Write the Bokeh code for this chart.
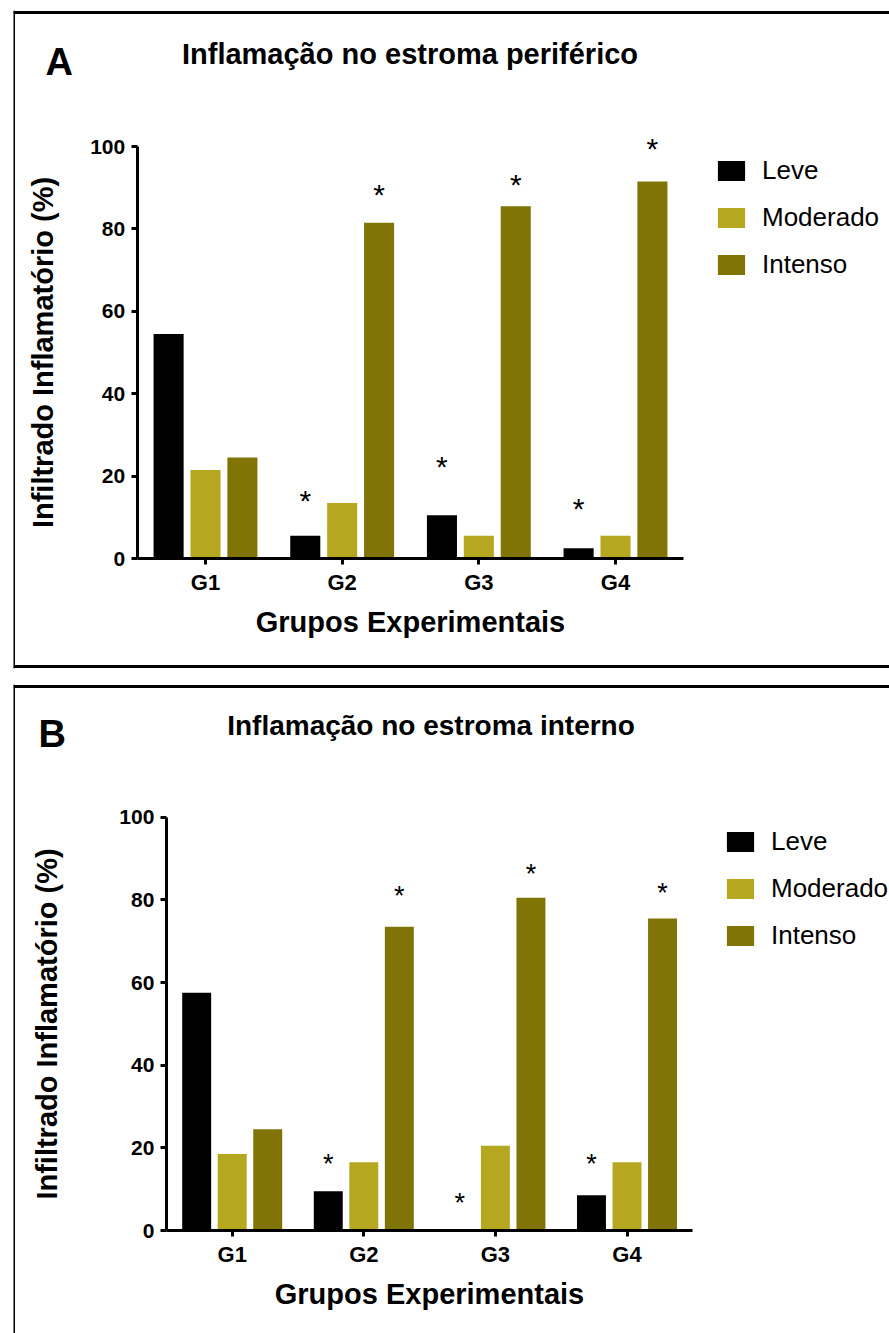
import numpy as np
from bokeh.plotting import figure
from bokeh.models import (ColumnDataSource, Range1d, LinearAxis, FixedTicker,
                          Legend, LegendItem, Label, Span)
from bokeh.layouts import column
from bokeh.transform import dodge
from bokeh.core.properties import value
from bokeh.embed import file_html
from bokeh.resources import INLINE

# ---------------- data ----------------
groups = ["G1", "G2", "G3", "G4"]
series = ["Leve", "Moderado", "Intenso"]
y_ticks = [0, 20, 40, 60, 80, 100]

# Panel A - Inflamação no estroma periférico
a_leve = [54.5, 5.5, 10.5, 2.5]
a_moderado = [21.5, 13.5, 5.5, 5.5]
a_intenso = [24.5, 81.5, 85.5, 91.5]
a_star_leve = [np.nan, 14.7, 23.0, 12.8]
a_star_intenso = [np.nan, 89.0, 91.3, 100.2]

# Panel B - Inflamação no estroma interno
b_leve = [57.5, 9.5, 0.0, 8.5]
b_moderado = [18.5, 16.5, 20.5, 16.5]
b_intenso = [24.5, 73.5, 80.5, 75.5]
b_star_leve = [np.nan, 16.9, 7.3, 16.9]
b_star_intenso = [np.nan, 81.6, 87.1, 82.3]

# ---------------- styles ----------------
colors = ["#000000", "#b5a820", "#807406"]
FONT = "Liberation Sans"
W = 889          # page width
BASE_FIX = 14    # svg alphabetic-baseline correction (px)


def make_panel(letter, title, leve, moderado, intenso, star_leve, star_int, g):
    H = g["H"]
    L = g["box_left"]               # frame left = panel border, px
    T, B = g["T"], g["B"]
    sx = g["spacing"]
    sy = g["ppu"]
    x0 = 1 - (g["g1_px"] - L) / sx
    x1 = x0 + (W - L) / sx
    y1 = (g["zero_px"] - T) / sy
    y0 = -(H - B - g["zero_px"]) / sy

    def px_x(px):
        return x0 + (px - L) / sx

    def px_y(py):
        return (g["zero_px"] - py) / sy

    p = figure(width=W, height=H, x_axis_type=None, y_axis_type=None,
               toolbar_location=None, output_backend="svg",
               x_range=Range1d(x0, x1), y_range=Range1d(y0, y1),
               min_border_left=L, min_border_right=0,
               min_border_top=T, min_border_bottom=B)
    p.outline_line_color = None
    p.background_fill_color = "white"
    p.border_fill_color = "white"

    src = ColumnDataSource(dict(x=[1, 2, 3, 4], group=groups,
                                Leve=leve, Moderado=moderado, Intenso=intenso,
                                s_leve=star_leve, s_int=star_int))
    offsets = [-0.27, 0.0, 0.27]
    rends = []
    for name, col, off in zip(series, colors, offsets):
        r = p.vbar(x=dodge("x", off), top=name, bottom=0, width=0.22,
                   source=src, fill_color=col, line_color=None)
        rends.append(r)

    for col_name, off in (("s_leve", -0.27), ("s_int", 0.27)):
        p.text(x=dodge("x", off), y=col_name, text=value("*"), source=src,
               text_font=value(FONT), text_font_size=value(g["star_size"]),
               text_align="center", text_baseline="alphabetic",
               y_offset=g["star_off"], text_color="black")

    # axes
    yaxis = LinearAxis(fixed_location=0.5, bounds=(0, 100),
                       ticker=FixedTicker(ticks=y_ticks, minor_ticks=[]),
                       axis_label="Infiltrado Inflamatório (%)")
    yaxis.axis_line_width = 3
    yaxis.major_tick_line_width = 3
    yaxis.major_tick_out = 6
    yaxis.major_tick_in = 0
    yaxis.minor_tick_out = 0
    yaxis.minor_tick_in = 0
    yaxis.major_label_standoff = 6
    yaxis.major_label_text_font = FONT
    yaxis.major_label_text_font_style = "bold"
    yaxis.major_label_text_font_size = "21px"
    yaxis.major_label_text_color = "black"
    yaxis.axis_label_text_font = FONT
    yaxis.axis_label_text_font_style = "bold"
    yaxis.axis_label_text_font_size = "29px"
    yaxis.axis_label_standoff = g["ylab_standoff"]
    yaxis.axis_label_text_color = "black"
    p.add_layout(yaxis, "left")

    xaxis = LinearAxis(fixed_location=0, bounds=(0.5, 4.5),
                       ticker=FixedTicker(ticks=[1, 2, 3, 4], minor_ticks=[]),
                       major_label_overrides={i + 1: gname for i, gname in enumerate(groups)},
                       axis_label="Grupos Experimentais")
    xaxis.axis_line_width = 3
    xaxis.major_tick_line_width = 3
    xaxis.major_tick_out = 6
    xaxis.major_tick_in = 0
    xaxis.minor_tick_out = 0
    xaxis.minor_tick_in = 0
    xaxis.major_label_standoff = 5
    xaxis.major_label_text_font = FONT
    xaxis.major_label_text_font_style = "bold"
    xaxis.major_label_text_font_size = "22px"
    xaxis.major_label_text_color = "black"
    xaxis.axis_label_text_font = FONT
    xaxis.axis_label_text_font_style = "bold"
    xaxis.axis_label_text_font_size = "29px"
    xaxis.axis_label_standoff = g["xlab_standoff"]
    xaxis.axis_label_text_color = "black"
    p.add_layout(xaxis, "below")

    # legend
    lab_h, spacing, glyph_h = 32, 15, 25
    leg_h = 3 * lab_h + 2 * spacing
    leg_bottom = g["leg_top"] - (lab_h - glyph_h) / 2 + leg_h
    legend = Legend(items=[LegendItem(label=s, renderers=[r]) for s, r in zip(series, rends)],
                    location=(g["leg_left"] - L, (H - B) - leg_bottom),
                    glyph_width=34, glyph_height=glyph_h, label_height=lab_h, spacing=spacing,
                    padding=0, margin=0, label_standoff=14,
                    label_text_font=FONT, label_text_font_size="26px",
                    label_text_color="black",
                    border_line_color=None, background_fill_alpha=0)
    p.add_layout(legend)

    # title and panel letter
    p.add_layout(Label(x=px_x(g["title_cx"]), y=px_y(g["title_base"] - BASE_FIX), text=title,
                       text_align="center", text_baseline="alphabetic",
                       text_font=FONT, text_font_style="bold",
                       text_font_size=g["title_size"], text_color="black"))
    p.add_layout(Label(x=px_x(g["letter_x"]), y=px_y(g["letter_base"] - BASE_FIX), text=letter,
                       text_align="left", text_baseline="alphabetic",
                       text_font=FONT, text_font_style="bold",
                       text_font_size="38px", text_color="black"))

    # panel border (its right edge, and the bottom of B, fall outside the picture)
    border = dict(line_color="black", line_width=3)
    p.add_layout(Span(location=x0, dimension="height", **border))
    p.add_layout(Span(location=px_y(g["box_top"]), dimension="width", **border))
    if g["box_bottom"] is not None:
        p.add_layout(Span(location=px_y(g["box_bottom"]), dimension="width", **border))
    return p


geom_a = dict(H=676, T=10, B=8, spacing=136.67, ppu=4.12, g1_px=205,
              zero_px=558, star_size="30px", star_off=2.5,
              ylab_standoff=28, xlab_standoff=8,
              leg_left=714, leg_top=158, title_size="29px",
              title_cx=409.5, title_base=67, letter_x=45, letter_base=75,
              box_left=13, box_top=12, box_bottom=666)
geom_b = dict(H=657, T=8, B=0, spacing=131.6, ppu=4.133, g1_px=231.7,
              zero_px=554, star_size="27px", star_off=3,
              ylab_standoff=53, xlab_standoff=8,
              leg_left=723, leg_top=153, title_size="28px",
              title_cx=430.5, title_base=63, letter_x=38, letter_base=71,
              box_left=13, box_top=10, box_bottom=None)

pa = make_panel("A", "Inflamação no estroma periférico",
                a_leve, a_moderado, a_intenso, a_star_leve, a_star_intenso, geom_a)
pb = make_panel("B", "Inflamação no estroma interno",
                b_leve, b_moderado, b_intenso, b_star_leve, b_star_intenso, geom_b)

layout = column(pa, pb, spacing=0)
open("out.html", "w").write(file_html(layout, INLINE))
